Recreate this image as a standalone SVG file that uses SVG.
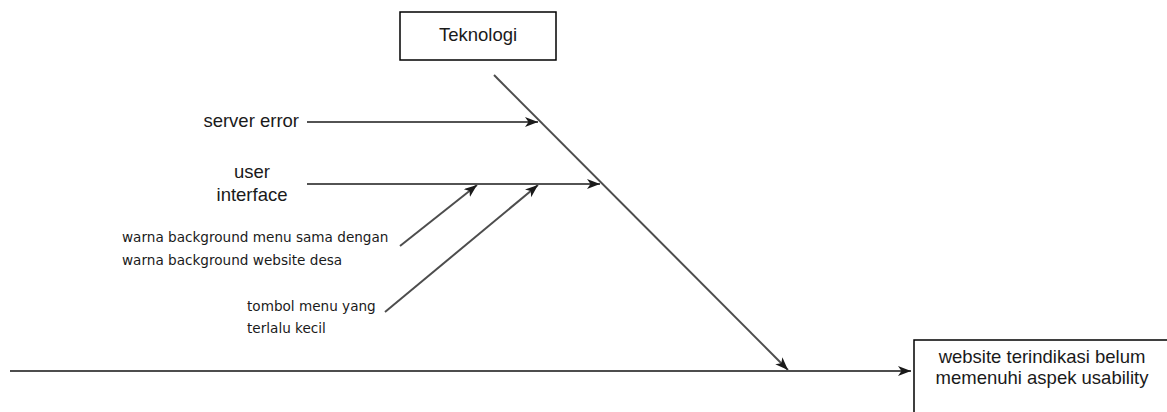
<svg xmlns="http://www.w3.org/2000/svg" width="1167" height="412" viewBox="0 0 1167 412">
<style>
.box{fill:#fff;stroke:#000;stroke-width:1.5}
.lbl{font-family:"Liberation Sans",Arial,sans-serif;font-size:18.5px;fill:#1a1a1a}
.sm{font-family:"DejaVu Sans",Verdana,sans-serif;font-size:13.6px;fill:#1a1a1a}
.ln{fill:none;stroke:#1a1a1a;stroke-width:1.5}
.dg{fill:none;stroke:#4d4d4d;stroke-width:2}
</style>
<defs>
<marker id="ah" markerUnits="userSpaceOnUse" markerWidth="14" markerHeight="12" refX="13" refY="5" orient="auto">
<path d="M0,0 L13,5 L0,10 L3.5,5 Z" fill="#1a1a1a"/>
</marker>
</defs>
<g id="connectors">
<line class="dg" x1="10" y1="371" x2="911" y2="371" marker-end="url(#ah)"/>
<line class="dg" x1="494" y1="75" x2="788" y2="370" marker-end="url(#ah)"/>
<line class="ln" x1="307" y1="122" x2="538" y2="122" marker-end="url(#ah)"/>
<line class="ln" x1="307" y1="184" x2="600" y2="184" marker-end="url(#ah)"/>
<line class="dg" x1="400" y1="246" x2="477" y2="185" marker-end="url(#ah)"/>
<line class="dg" x1="385" y1="312" x2="538" y2="185" marker-end="url(#ah)"/>
</g>
<g id="teknologi">
<rect class="box" x="400" y="12" width="156" height="48"/>
<text class="lbl" x="478" y="41" text-anchor="middle">Teknologi</text>
</g>
<g id="effect">
<rect class="box" x="914" y="340" width="260" height="90"/>
<text class="lbl" x="1042" y="363" text-anchor="middle">website terindikasi belum</text>
<text class="lbl" x="1042" y="384" text-anchor="middle">memenuhi aspek usability</text>
</g>
<g id="server-error">
<text class="lbl" x="299" y="127" text-anchor="end">server error</text>
</g>
<g id="user-interface">
<text class="lbl" x="252" y="178" text-anchor="middle">user</text>
<text class="lbl" x="252" y="201" text-anchor="middle">interface</text>
</g>
<g id="warna-background">
<text class="sm" x="122" y="242">warna background menu sama dengan</text>
<text class="sm" x="122" y="265">warna background website desa</text>
</g>
<g id="tombol-menu">
<text class="sm" x="247" y="311">tombol menu yang</text>
<text class="sm" x="247" y="333">terlalu kecil</text>
</g>
</svg>
